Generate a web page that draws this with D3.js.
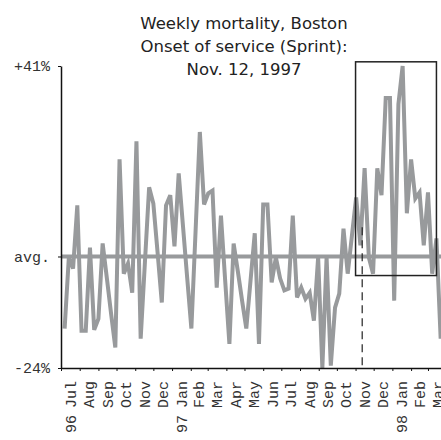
<!DOCTYPE html>
<html>
<head>
<meta charset="utf-8">
<script src="https://cdn.jsdelivr.net/npm/d3@7"></script>
<style>
  body { margin: 0; background: #fff; }
  svg { display: block; }
</style>
</head>
<body>
<div id="chart"></div>
<script>
// weekly deviation from average mortality (%), first week starting Jul 7 1996
var firstWeek = new Date(1996, 6, 7);
var weeklyValues = [
  -15.5, -0.2, -2.6, 11.0, -16.0, -16.0, 1.9, -15.8, -13.4, 2.8,
  -4.7, -12.3, -19.6, 20.9, -3.7, -1.5, -7.8, 24.8, -17.7, -1.3,
  14.9, 11.4, 0.9, -9.9, 11.0, 13.2, 2.2, 17.9, 6.7, -4.5,
  -15.5, 5.6, 26.8, 11.2, 13.6, 14.2, -6.7, 8.8, -5.2, -18.8,
  2.8, -3.2, -9.5, -15.5, -5.2, 5.0, -18.8, 11.2, 11.2, -5.6,
  -0.2, -4.7, -7.3, -6.9, 8.8, -8.8, -6.7, -9.1, -7.8, -13.8,
  -0.2, -24.0, -0.2, -23.5, -11.0, -8.0, 6.0, -3.7, 4.5, 12.7,
  2.4, 19.0, -0.2, -3.7, 19.0, 13.2, 34.1, 34.1, -9.5, 32.8,
  41.0, 9.3, 20.9, 12.5, 13.8, 2.4, 13.8, -3.7, 3.9, -17.7
];
var monthLabels = ["Jul", "Aug", "Sep", "Oct", "Nov", "Dec", "Jan", "Feb", "Mar", "Apr",
  "May", "Jun", "Jul", "Aug", "Sep", "Oct", "Nov", "Dec", "Jan", "Feb", "Mar"];
var yearLabels = ["96", "97", "98"];
var yearMonthIndex = [0, 6, 18];
var yTicks = [41, 0, -24];
var yTickLabels = ["+41%", "avg.", "-24%"];
var titleLines = ["Weekly mortality, Boston", "Onset of service (Sprint):", "Nov. 12, 1997"];
var onsetDate = new Date(1997, 10, 12);
var boxFrom = new Date(1997, 10, 1), boxTo = new Date(1998, 2, 15);
var boxTop = 41.9, boxBottom = -4.1;
var dashTop = 6.3;

var width = 441, height = 440;
var gray = "#989a9c";
var mono = "'Liberation Mono', 'Courier New', monospace";

var svg = d3.select("#chart").append("svg")
    .attr("width", width)
    .attr("height", height);

var x = d3.scaleTime()
    .domain([new Date(1996, 6, 1), new Date(1998, 3, 1)])
    .range([61, 446.7]);
var y = d3.scaleLinear()
    .domain([-24, 41])
    .range([368, 66]);

var weeks = weeklyValues.map(function (v, i) {
    return { date: d3.timeWeek.offset(firstWeek, i), value: v };
});

// title
svg.append("g").selectAll("text")
    .data(titleLines)
    .enter().append("text")
    .attr("x", 244)
    .attr("y", function (d, i) { return 29 + i * 23; })
    .attr("text-anchor", "middle")
    .style("font-family", "'DejaVu Sans', sans-serif")
    .style("font-size", "16.5px")
    .style("fill", "#222")
    .text(function (d) { return d; });

// average line
svg.append("line")
    .attr("x1", x.range()[0]).attr("x2", width)
    .attr("y1", y(0)).attr("y2", y(0))
    .style("stroke", gray)
    .style("stroke-width", 4);

// data line
var line = d3.line()
    .x(function (d) { return x(d.date); })
    .y(function (d) { return y(d.value); });

svg.append("path")
    .datum(weeks)
    .attr("d", line)
    .style("fill", "none")
    .style("stroke", gray)
    .style("stroke-width", 4)
    .style("stroke-linejoin", "miter");

// onset marker + highlight box
svg.append("line")
    .attr("x1", x(onsetDate)).attr("x2", x(onsetDate))
    .attr("y1", y(dashTop)).attr("y2", y(-24))
    .style("stroke", "#222")
    .style("stroke-width", 1.2)
    .style("stroke-dasharray", "8,5");

svg.append("rect")
    .attr("x", x(boxFrom))
    .attr("y", y(boxTop))
    .attr("width", x(boxTo) - x(boxFrom))
    .attr("height", y(boxBottom) - y(boxTop))
    .style("fill", "none")
    .style("stroke", "#222")
    .style("stroke-width", 1.5);

// y axis
var yAxis = d3.axisLeft(y)
    .tickValues(yTicks)
    .tickFormat(function (d, i) { return yTickLabels[i]; })
    .tickSize(3)
    .tickSizeOuter(0)
    .tickPadding(8);

var gy = svg.append("g")
    .attr("transform", "translate(" + x.range()[0] + ",0)")
    .call(yAxis);
gy.select(".domain").style("stroke", "#111").style("stroke-width", 1.5);
gy.selectAll(".tick line").style("stroke", "#111");
gy.selectAll(".tick text")
    .style("font-family", mono)
    .style("font-size", "15px")
    .style("fill", "#333");

// x axis
var months = d3.timeMonth.range(new Date(1996, 6, 1), new Date(1998, 3, 1));
var xAxis = d3.axisBottom(x)
    .tickValues(months)
    .tickFormat("")
    .tickSize(3)
    .tickSizeOuter(0);

var gx = svg.append("g")
    .attr("transform", "translate(0," + y.range()[0] + ")")
    .call(xAxis);
gx.select(".domain").style("stroke", "#111").style("stroke-width", 1.5);
gx.selectAll(".tick line").style("stroke", "#111");

function monthMid(m) {
    return (x(m) + x(d3.timeMonth.offset(m, 1))) / 2;
}

svg.append("g").selectAll("text")
    .data(monthLabels)
    .enter().append("text")
    .attr("transform", function (d, i) {
        return "translate(" + monthMid(months[i]) + ",381) rotate(-90)";
    })
    .attr("dy", "0.35em")
    .attr("text-anchor", "end")
    .style("font-family", mono)
    .style("font-size", "15px")
    .style("fill", "#333")
    .text(function (d) { return d; });

svg.append("g").selectAll("text")
    .data(yearLabels)
    .enter().append("text")
    .attr("transform", function (d, i) {
        return "translate(" + monthMid(months[yearMonthIndex[i]]) + ",415) rotate(-90)";
    })
    .attr("dy", "0.35em")
    .attr("text-anchor", "end")
    .style("font-family", mono)
    .style("font-size", "15px")
    .style("fill", "#333")
    .text(function (d) { return d; });
</script>
</body>
</html>
